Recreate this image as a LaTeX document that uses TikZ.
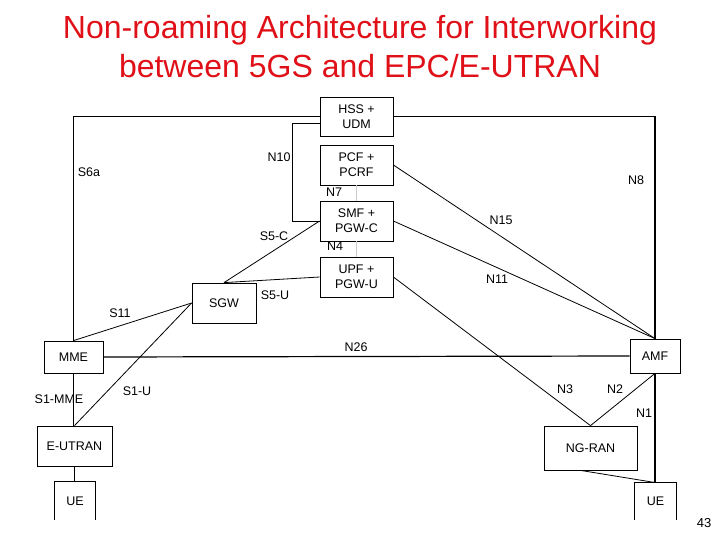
\documentclass[tikz,border=0pt]{standalone}
\usepackage{fontspec}
\setmainfont{Liberation Sans}
\definecolor{titlered}{RGB}{224,16,24}
\begin{document}
\begin{tikzpicture}[x=1pt,y=-1pt,
  box/.style={draw, line width=0.8pt, inner sep=0pt, align=center,
    font=\fontsize{12.5}{15}\selectfont},
  lbl/.style={font=\fontsize{12.5}{14}\selectfont, inner sep=0pt},
  frame/.style={line width=1.2pt},
  link/.style={line width=0.8pt},
  faint/.style={line width=0.6pt, draw=black!20}]
\useasboundingbox (0,0) rectangle (720,540);
\node[titlered, font=\fontsize{32}{39}\selectfont, align=center] (title) at (360,47)
  {Non-roaming Architecture for Interworking\\between 5GS and EPC/E-UTRAN};
% boxes
\node[box, minimum width=73, minimum height=39] (hss) at (356.5,116.5) {HSS +\\UDM};
\node[box, minimum width=73, minimum height=40] (pcf) at (356.5,165) {PCF +\\PCRF};
\node[box, minimum width=73, minimum height=40] (smf) at (356.5,221) {SMF +\\PGW-C};
\node[box, minimum width=73, minimum height=40] (upf) at (356.5,277) {UPF +\\PGW-U};
\node[box, minimum width=64, minimum height=40] (sgw) at (224,303) {SGW};
\node[box, minimum width=59, minimum height=32] (mme) at (73.5,357) {MME};
\node[box, minimum width=75, minimum height=40] (eutran) at (74.5,446) {E-UTRAN};
\node[box, minimum width=50, minimum height=34] (amf) at (655,356) {AMF};
\node[box, minimum width=93, minimum height=44] (ngran) at (590.5,448) {NG-RAN};
\node[box, draw=none, minimum width=40, minimum height=38] (ueL) at (75,501) {UE};
\node[box, draw=none, minimum width=41, minimum height=37] (ueR) at (655.5,501.5) {UE};
\draw[link] (ueL.south west) -- (ueL.north west) -- (ueL.north east) -- (ueL.south east);
\draw[link] (ueR.south west) -- (ueR.north west) -- (ueR.north east) -- (ueR.south east);
% frame
\draw[frame] (hss.west) -- (mme.north |- hss.west) -- (mme.north);
\draw[frame] (hss.east) -- (amf.north |- hss.east) -- (amf.north);
\draw[frame] (mme.south) -- (mme.south |- eutran.north);
\draw[frame] (eutran.south) -- (eutran.south |- ueL.north);
\draw[frame] (amf.south) -- (amf.south |- ueR.north);
\draw[frame] (mme.east) -- (amf.west);
% N10
\draw[link] ([yshift=-6.5pt]hss.west) -- ++(-27,0) |- (smf.west);
% faint
\draw[faint] (pcf.south) -- (smf.north);
\draw[faint] (smf.south) -- (upf.north);
% links
\draw[link] (smf.west) -- (sgw.north);
\draw[link] (upf.west) -- (sgw.north);
\draw[link] (mme.north) -- (sgw.west);
\draw[link] (eutran.north) -- (sgw.west);
\draw[link] (pcf.east) -- (amf.north);
\draw[link] (smf.east) -- (amf.north);
\draw[link] (upf.east) -- (ngran.north);
\draw[link] (amf.south) -- (ngran.north);
\draw[link] ([xshift=-10pt]ngran.south) -- (ueR.north);
% labels
\node[lbl] (lN10) at (279,157) {N10};
\node[lbl] (lS6a) at (89,172) {S6a};
\node[lbl] (lN7) at (334,192) {N7};
\node[lbl] (lS5C) at (274,236) {S5-C};
\node[lbl] (lN4) at (335,246) {N4};
\node[lbl] (lS5U) at (275,295) {S5-U};
\node[lbl] (lS11) at (120,313) {S11};
\node[lbl] (lN8) at (636,180) {N8};
\node[lbl] (lN15) at (501,220) {N15};
\node[lbl] (lN11) at (497,279) {N11};
\node[lbl] (lN26) at (356,347) {N26};
\node[lbl] (lS1MME) at (59,399) {S1-MME};
\node[lbl] (lS1U) at (137,391) {S1-U};
\node[lbl] (lN3) at (565,389) {N3};
\node[lbl] (lN2) at (615,389) {N2};
\node[lbl] (lN1) at (644,413) {N1};
\node[lbl, font=\fontsize{13}{15}\selectfont] (page) at (704,523) {43};
\end{tikzpicture}
\end{document}
